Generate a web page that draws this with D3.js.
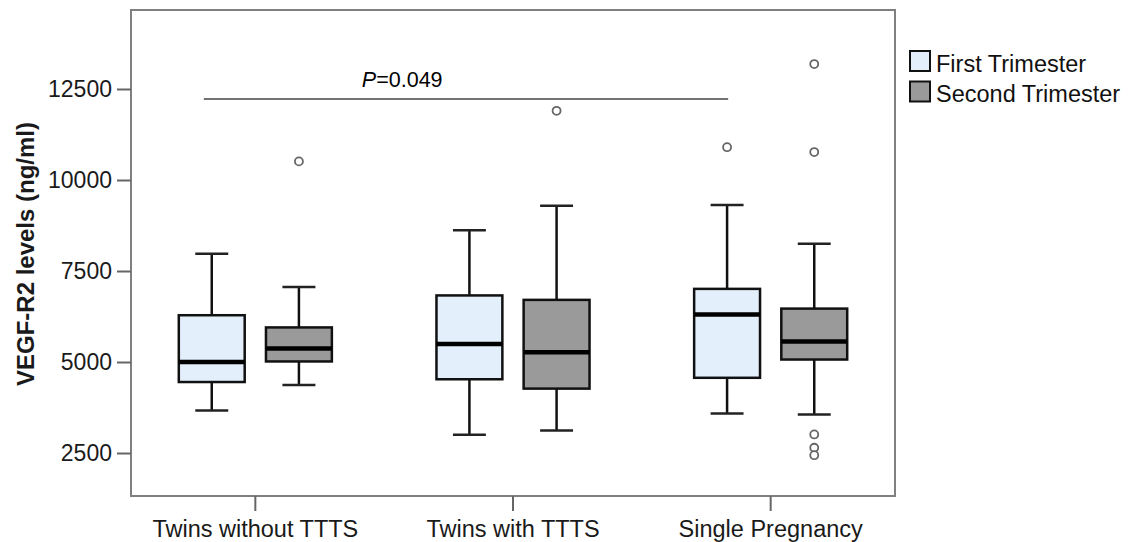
<!DOCTYPE html>
<html>
<head>
<meta charset="utf-8">
<script src="https://cdn.jsdelivr.net/npm/d3@7"></script>
<style>
  body { margin: 0; background: #fff; }
  svg { display: block; font-family: "Liberation Sans", Arial, sans-serif; }
</style>
</head>
<body>
<div id="chart"></div>
<script>
// Box plot of VEGF-R2 levels by group and trimester

const categories = ['Twins without TTTS', 'Twins with TTTS', 'Single Pregnancy'];
const trimesters = ['First Trimester', 'Second Trimester'];
const yTicks = [2500, 5000, 7500, 10000, 12500];

// first trimester summary values (per category)
const firstLow = [3670, 3005, 3584];
const firstQ1 = [4450, 4526, 4566];
const firstMed = [5000, 5497, 6307];
const firstQ3 = [6285, 6829, 7009];
const firstHigh = [7971, 8619, 9312];
const firstOutliers = [[], [], [10902]];

// second trimester summary values (per category)
const secondLow = [4370, 3119, 3555];
const secondQ1 = [5015, 4269, 5068];
const secondMed = [5370, 5268, 5565];
const secondQ3 = [5950, 6707, 6467];
const secondHigh = [7058, 9292, 8248];
const secondOutliers = [[10511], [11901], [13185, 10768, 3010, 2645, 2440]];

// significance bracket (in category units) and label
const sigSpan = [-0.2, 1.835];
const sigValue = 12225;
const sigLabel = '=0.049';
const sigLabelPos = 0.57;

const colors = ['#e3effb', '#9a9a9a'];

const width = 1128, height = 542;
const frame = { left: 131, right: 895, top: 10, bottom: 496 };

const svg = d3.select('#chart').append('svg')
  .attr('width', width)
  .attr('height', height);

const x = d3.scaleBand()
  .domain(categories)
  .range([126.5, 899.5]);

const xPos = d3.scaleLinear()
  .domain([-0.5, categories.length - 0.5])
  .range(x.range());

const xSub = d3.scaleBand()
  .domain(trimesters)
  .range([0, x.bandwidth()])
  .paddingInner(0.244)
  .paddingOuter(0.6);

const y = d3.scaleLinear()
  .domain([1319, 14670])
  .range([frame.bottom, frame.top]);

// build series table from the arrays
const series = [
  { key: trimesters[0], low: firstLow, q1: firstQ1, med: firstMed, q3: firstQ3, high: firstHigh, out: firstOutliers, color: colors[0] },
  { key: trimesters[1], low: secondLow, q1: secondQ1, med: secondMed, q3: secondQ3, high: secondHigh, out: secondOutliers, color: colors[1] }
];

const boxes = [];
series.forEach(s => {
  categories.forEach((c, i) => {
    boxes.push({ cat: c, key: s.key, color: s.color,
      low: s.low[i], q1: s.q1[i], med: s.med[i], q3: s.q3[i], high: s.high[i], out: s.out[i] });
  });
});

// frame
svg.append('rect')
  .attr('x', frame.left)
  .attr('y', frame.top)
  .attr('width', frame.right - frame.left)
  .attr('height', frame.bottom - frame.top)
  .attr('fill', 'none')
  .attr('stroke', '#808080')
  .attr('stroke-width', 2);

// y axis
const yAxis = svg.append('g')
  .attr('transform', `translate(${frame.left},0)`)
  .call(d3.axisLeft(y).tickValues(yTicks).tickSize(14).tickPadding(5).tickFormat(d3.format('d')));
yAxis.select('.domain').remove();
yAxis.selectAll('.tick line').attr('stroke', '#666').attr('stroke-width', 2);
yAxis.selectAll('.tick text')
  .attr('fill', '#1a1a1a')
  .style('font-size', '23px')
  .style('font-family', '"Liberation Sans", Arial, sans-serif');

// x axis
const xAxis = svg.append('g')
  .attr('transform', `translate(0,${frame.bottom})`)
  .call(d3.axisBottom(x).tickSize(15).tickPadding(9));
xAxis.select('.domain').remove();
xAxis.selectAll('.tick line').attr('stroke', '#666').attr('stroke-width', 2);
xAxis.selectAll('.tick text')
  .attr('fill', '#1a1a1a')
  .style('font-size', '23.5px')
  .style('font-family', '"Liberation Sans", Arial, sans-serif');

// y axis title
svg.append('text')
  .attr('transform', `translate(34,${254}) rotate(-90)`)
  .attr('text-anchor', 'middle')
  .attr('font-weight', 'bold')
  .attr('font-size', '24px')
  .attr('fill', '#1a1a1a')
  .text('VEGF-R2 levels (ng/ml)');

// boxes
const g = svg.append('g')
  .selectAll('g')
  .data(boxes)
  .join('g')
  .attr('transform', d => `translate(${x(d.cat) + xSub(d.key)},0)`);

const bw = xSub.bandwidth();

// whiskers
g.append('line')
  .attr('x1', bw / 2).attr('x2', bw / 2)
  .attr('y1', d => y(d.q3)).attr('y2', d => y(d.high))
  .attr('stroke', '#111').attr('stroke-width', 2.5);
g.append('line')
  .attr('x1', bw / 2).attr('x2', bw / 2)
  .attr('y1', d => y(d.q1)).attr('y2', d => y(d.low))
  .attr('stroke', '#111').attr('stroke-width', 2.5);
g.append('line')
  .attr('x1', bw / 4).attr('x2', bw * 3 / 4)
  .attr('y1', d => y(d.high)).attr('y2', d => y(d.high))
  .attr('stroke', '#222').attr('stroke-width', 2.5);
g.append('line')
  .attr('x1', bw / 4).attr('x2', bw * 3 / 4)
  .attr('y1', d => y(d.low)).attr('y2', d => y(d.low))
  .attr('stroke', '#222').attr('stroke-width', 2.5);

// box
g.append('rect')
  .attr('x', 0)
  .attr('width', bw)
  .attr('y', d => y(d.q3))
  .attr('height', d => y(d.q1) - y(d.q3))
  .attr('fill', d => d.color)
  .attr('stroke', '#111')
  .attr('stroke-width', 2.5);

// median
g.append('line')
  .attr('x1', 0).attr('x2', bw)
  .attr('y1', d => y(d.med)).attr('y2', d => y(d.med))
  .attr('stroke', '#000').attr('stroke-width', 4.5);

// outliers
g.selectAll('circle')
  .data(d => d.out)
  .join('circle')
  .attr('cx', bw / 2)
  .attr('cy', v => y(v))
  .attr('r', 4)
  .attr('fill', '#fff')
  .attr('stroke', '#666')
  .attr('stroke-width', 1.8);

// significance line
svg.append('line')
  .attr('x1', xPos(sigSpan[0])).attr('x2', xPos(sigSpan[1]))
  .attr('y1', y(sigValue)).attr('y2', y(sigValue))
  .attr('stroke', '#444')
  .attr('stroke-width', 1.6);

const pText = svg.append('text')
  .attr('x', xPos(sigLabelPos))
  .attr('y', y(sigValue) - 12)
  .attr('text-anchor', 'middle')
  .attr('font-size', '21.5px')
  .attr('fill', '#000');
pText.append('tspan').attr('font-style', 'italic').text('P');
pText.append('tspan').text(sigLabel);

// legend
const legend = svg.append('g')
  .attr('transform', 'translate(909,50)');

const item = legend.selectAll('g')
  .data(series)
  .join('g')
  .attr('transform', (d, i) => `translate(0,${i * 30.5})`);

item.append('rect')
  .attr('x', 1).attr('y', 1)
  .attr('width', 20).attr('height', 20)
  .attr('fill', d => d.color)
  .attr('stroke', '#111')
  .attr('stroke-width', 2);

item.append('text')
  .attr('x', 27)
  .attr('y', 21.5)
  .attr('font-size', '23.5px')
  .attr('fill', '#111')
  .text(d => d.key);
</script>
</body>
</html>
